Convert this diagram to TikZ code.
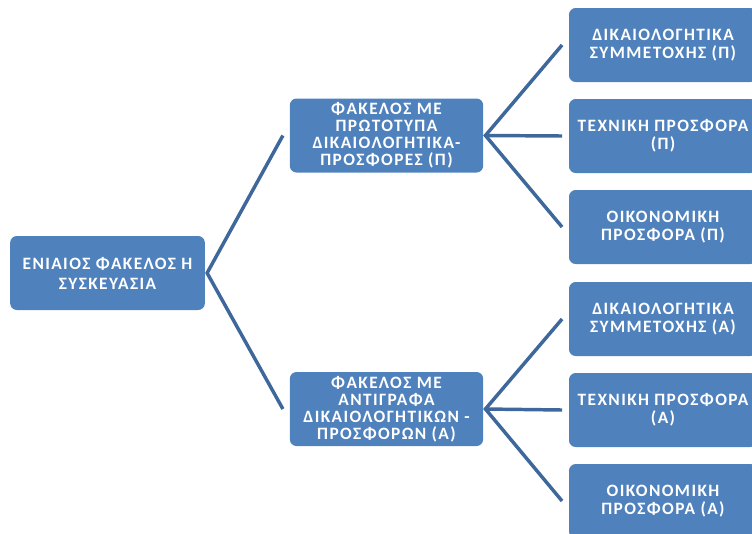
\documentclass[tikz,border=0pt]{standalone}
\usepackage{fontspec}
\setmainfont{Carlito}
\newfontfamily\boxfont[LetterSpace=8]{Carlito}
\usetikzlibrary{positioning}

\definecolor{boxblue}{RGB}{79,129,189}
\definecolor{linkblue}{RGB}{62,104,156}

\tikzset{
  stage/.style={draw=none, fill=boxblue, rounded corners=5pt, text=white,
    align=center, inner sep=0pt, minimum height=55.5pt,
    font=\boxfont\bfseries\fontsize{13}{13.5}\selectfont},
  link/.style={draw=linkblue, line width=2.6pt, line join=miter}
}

\begin{document}
\begin{tikzpicture}[x=0.75pt,y=0.75pt,yscale=-1,xscale=1]
\useasboundingbox (0,0) rectangle (752,533);
\clip (0,0) rectangle (752,533);

% Root
\node [stage, minimum width=146pt, font=\boxfont\bfseries\fontsize{13}{15}\selectfont] (whole) at (107.5,273) {ΕΝΙΑΙΟΣ ΦΑΚΕΛΟΣ Η\\ΣΥΣΚΕΥΑΣΙΑ};

% Middle level
\node [stage, minimum width=145pt, font=\boxfont\bfseries\fontsize{13}{12.8}\selectfont] (orig) at (386.5,135.5) {ΦΑΚΕΛΟΣ ΜΕ\\ΠΡΩΤΟΤΥΠΑ\\ΔΙΚΑΙΟΛΟΓΗΤΙΚΑ-\\ΠΡΟΣΦΟΡΕΣ (Π)};
\node [stage, minimum width=145pt, font=\boxfont\bfseries\fontsize{13}{12.8}\selectfont] (copy) at (386.5,409) {ΦΑΚΕΛΟΣ ΜΕ\\ΑΝΤΙΓΡΑΦΑ\\ΔΙΚΑΙΟΛΟΓΗΤΙΚΩΝ -\\ΠΡΟΣΦΟΡΩΝ (Α)};

% Right level (Π)
\node [stage, minimum width=141pt] (origDik) at (663,45) {ΔΙΚΑΙΟΛΟΓΗΤΙΚΑ\\ΣΥΜΜΕΤΟΧΗΣ (Π)};
\node [stage, minimum width=141pt] (origTex) at (663,136) {ΤΕΧΝΙΚΗ ΠΡΟΣΦΟΡΑ\\(Π)};
\node [stage, minimum width=141pt] (origOik) at (663,227) {ΟΙΚΟΝΟΜΙΚΗ\\ΠΡΟΣΦΟΡΑ (Π)};

% Right level (Α)
\node [stage, minimum width=141pt] (copyDik) at (663,319) {ΔΙΚΑΙΟΛΟΓΗΤΙΚΑ\\ΣΥΜΜΕΤΟΧΗΣ (Α)};
\node [stage, minimum width=141pt] (copyTex) at (663,410) {ΤΕΧΝΙΚΗ ΠΡΟΣΦΟΡΑ\\(Α)};
\node [stage, minimum width=141pt] (copyOik) at (663,501) {ΟΙΚΟΝΟΜΙΚΗ\\ΠΡΟΣΦΟΡΑ (Α)};

% Connectors
\draw [link] ([xshift=-5pt]orig.west) -- ([xshift=1.5pt]whole.east) -- ([xshift=-5pt]copy.west);
\draw [link] ([xshift=-5pt]origDik.west) -- ([xshift=1.5pt]orig.east) -- ([xshift=-5pt]origOik.west);
\draw [link] ([xshift=1.5pt]orig.east) -- ([xshift=-5pt]origTex.west);
\draw [link] ([xshift=-5pt]copyDik.west) -- ([xshift=1.5pt]copy.east) -- ([xshift=-5pt]copyOik.west);
\draw [link] ([xshift=1.5pt]copy.east) -- ([xshift=-5pt]copyTex.west);

\end{tikzpicture}
\end{document}
